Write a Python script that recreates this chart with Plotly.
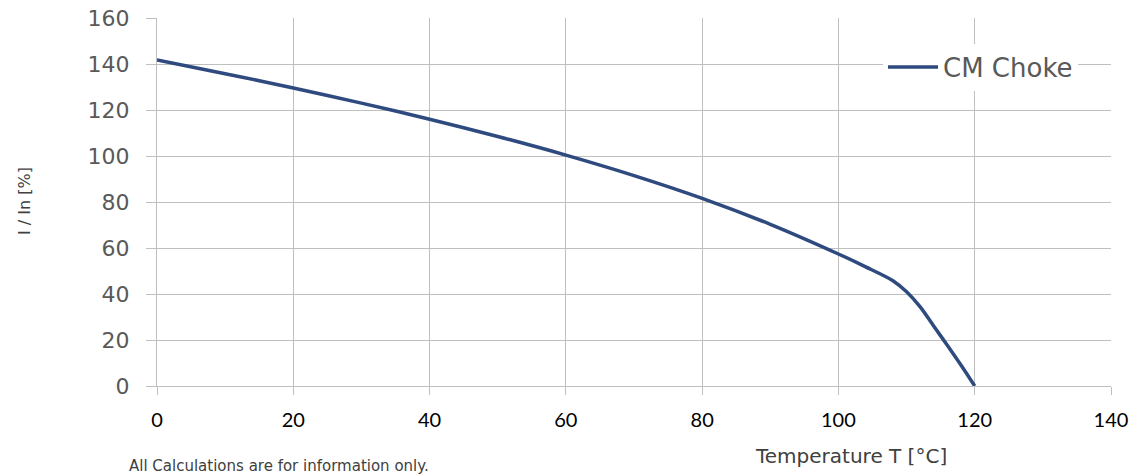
import plotly.graph_objects as go

temperature = [0, 10, 20, 30, 40, 50, 60, 70, 80, 90, 100, 104, 108, 110, 112, 114, 116, 118, 120]
current_pct = [141.8, 135.8, 129.6, 123.0, 116.0, 108.5, 100.4, 91.5, 81.6, 70.3, 57.4,
               51.8, 45.8, 41.0, 34.4, 26.0, 17.6, 9.0, 0.0]
series_name = "CM Choke"
x_ticks = [0, 20, 40, 60, 80, 100, 120, 140]
y_ticks = [0, 20, 40, 60, 80, 100, 120, 140, 160]

LINE = "#2E4A7E"
GRID = "#BFBFBF"
GOTHIC = "DejaVu Sans"
CAL = "Lato"

L, R, T, B = 157, 25, 18, 89
PW = 1136 - L - R
PH = 475 - T - B


def px(xp):
    return (xp - L) / PW


def py(yp):
    return (475 - B - yp) / PH


fig = go.Figure()
fig.add_trace(go.Scatter(
    x=temperature, y=current_pct, name=series_name, mode="lines",
    line=dict(color=LINE, width=3.5, shape="spline", smoothing=0.8),
    showlegend=True,
))

fig.update_layout(
    width=1136, height=475,
    margin=dict(l=L, r=R, t=T, b=B, autoexpand=False),
    paper_bgcolor="white", plot_bgcolor="white",
    showlegend=True,
    legend=dict(
        x=px(1078), xanchor="right", y=py(67), yanchor="middle",
        bgcolor="white", borderwidth=0,
        font=dict(family=GOTHIC, size=26, color="#595959"),
        itemwidth=50,
    ),
    xaxis=dict(
        range=[0, 140], tickvals=x_ticks, ticktext=[str(v) for v in x_ticks],
        showgrid=True, gridcolor=GRID, gridwidth=1.3,
        showline=True, linecolor=GRID, linewidth=1.3,
        ticks="outside", ticklen=8, tickcolor=GRID, tickwidth=1.3,
        ticklabelstandoff=8, automargin=False,
        tickfont=dict(family=CAL, size=20, color="#000000"),
        zeroline=False,
    ),
    yaxis=dict(
        range=[0, 160], tickvals=y_ticks, ticktext=[str(v) for v in y_ticks],
        showgrid=True, gridcolor=GRID, gridwidth=1.3,
        showline=True, linecolor=GRID, linewidth=1.3,
        ticks="outside", ticklen=10, tickcolor=GRID, tickwidth=1.3,
        ticklabelstandoff=12, automargin=False,
        tickfont=dict(family=GOTHIC, size=22, color="#595959"),
        zeroline=False,
    ),
    annotations=[
        dict(text="I / In [%]", xref="paper", yref="paper",
             x=px(24), y=py(201), textangle=-90,
             xanchor="center", yanchor="middle", showarrow=False,
             font=dict(family=GOTHIC, size=16, color="#404040")),
        dict(text="Temperature T [°C]", xref="paper", yref="paper",
             x=px(851), y=py(456),
             xanchor="center", yanchor="middle", showarrow=False,
             font=dict(family=GOTHIC, size=20, color="#404040")),
        dict(text="All Calculations are for information only.", xref="paper", yref="paper",
             x=px(127), y=py(466),
             xanchor="left", yanchor="middle", showarrow=False,
             font=dict(family=GOTHIC, size=15, color="#404040")),
    ],
)

fig.write_html("out.html", config={"displayModeBar": False},
               post_script="document.body.style.margin='0px';document.body.style.overflow='hidden';")
